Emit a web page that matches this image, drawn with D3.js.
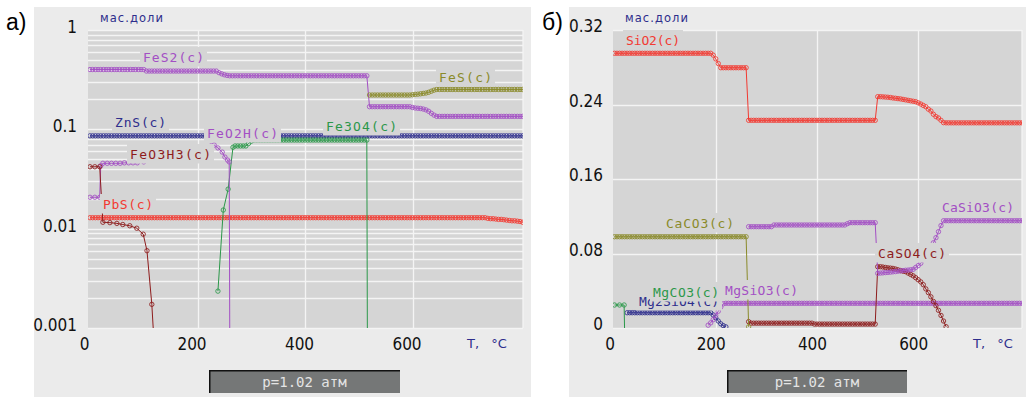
<!DOCTYPE html>
<html><head><meta charset="utf-8">
<script src="https://cdn.jsdelivr.net/npm/d3@7"></script>
<style>
html,body{margin:0;padding:0;background:#fff;}
svg{display:block;}
</style></head><body>
<svg id="chart" width="1026" height="397"></svg>
<script>
// ---------------- DATA ----------------
const T_STEP = 5; // temperature step of the computation, °C

// Panel а) — mass fractions (log axis)
const aXTicks = [0, 200, 400, 600];
const aYTicks = [1, 0.1, 0.01, 0.001];
const aYTickLabels = ["1", "0.1", "0.01", "0.001"];

// FeS2(c): T = 0..805
const fes2 = [
  .40,.40,.40,.40,.40,.40,.40,.40,.40,.40,.40,.40,.40,.40,.40,.40,.40,.40,.40,.40,.40,
  .386,.386,.386,.386,.386,.386,.386,.386,.386,.386,.386,.386,.386,.386,.386,.386,.386,.386,.386,.386,.386,.386,.386,.386,.386,.386,.386,
  .372,.362,.354,.349,
  .346,.346,.346,.346,.346,.346,.346,.346,.346,.346,.346,.346,.346,.346,.346,.346,.346,.346,.346,.346,
  .346,.346,.346,.346,.346,.346,.346,.346,.346,.346,.346,.346,.346,.346,.346,.346,.346,.346,.346,.346,
  .346,.346,.346,.346,.346,.346,.346,.346,.346,.346,.346,.346,
  .169,.169,.169,.169,.169,.169,.169,.169,.169,.169,.169,.169,.169,.169,.169,.169,
  .166,.164,.163,.162,.160,.157,.152,.145,.139,
  .135,.135,.135,.135,.135,.135,.135,.135,.135,.135,.135,.135,.135,.135,.135,.135,.135,.135,.135,.135,
  .135,.135,.135,.135,.135,.135,.135,.135,.135,.135,.135,.135,.135
];
// ZnS(c): T = 0..805
const zns = [
  .086,.086,.086,.086,.086,.086,.086,.086,.086,.086,.086,.086,.086,.086,.086,.086,.086,.086,.086,.086,
  .086,.086,.086,.086,.086,.086,.086,.086,.086,.086,.086,.086,.086,.086,.086,.086,.086,.086,.086,.086,
  .086,.086,.086,.086,.086,.086,.086,.086,.086,.086,.086,.086,.086,.086,.086,.086,.086,.086,.086,.086,
  .086,.086,.086,.086,.086,.086,.086,.086,.086,.086,.086,.086,.086,.086,.086,.086,.086,.086,.086,.086,
  .086,.086,.086,.086,.086,.086,.086,.086,.086,.086,.086,.086,.086,.086,.086,.086,.086,.086,.086,.086,
  .086,.086,.086,.086,.086,.086,.086,.086,.086,.086,.086,.086,.086,.086,.086,.086,.086,.086,.086,.086,
  .086,.086,.086,.086,.086,.086,.086,.086,.086,.086,.086,.086,.086,.086,.086,.086,.086,.086,.086,.086,
  .086,.086,.086,.086,.086,.086,.086,.086,.086,.086,.086,.086,.086,.086,.086,.086,.086,.086,.086,.086,
  .086,.086
];
// PbS(c): T = 0..805
const pbs = [
  .0129,.0129,.0129,.0129,.0129,.0129,.0129,.0129,.0129,.0129,.0129,.0129,.0129,.0129,.0129,.0129,.0129,.0129,.0129,.0129,
  .0129,.0129,.0129,.0129,.0129,.0129,.0129,.0129,.0129,.0129,.0129,.0129,.0129,.0129,.0129,.0129,.0129,.0129,.0129,.0129,
  .0129,.0129,.0129,.0129,.0129,.0129,.0129,.0129,.0129,.0129,.0129,.0129,.0129,.0129,.0129,.0129,.0129,.0129,.0129,.0129,
  .0129,.0129,.0129,.0129,.0129,.0129,.0129,.0129,.0129,.0129,.0129,.0129,.0129,.0129,.0129,.0129,.0129,.0129,.0129,.0129,
  .0129,.0129,.0129,.0129,.0129,.0129,.0129,.0129,.0129,.0129,.0129,.0129,.0129,.0129,.0129,.0129,.0129,.0129,.0129,.0129,
  .0129,.0129,.0129,.0129,.0129,.0129,.0129,.0129,.0129,.0129,.0129,.0129,.0129,.0129,.0129,.0129,.0129,.0129,.0129,.0129,
  .0129,.0129,.0129,.0129,.0129,.0129,.0129,.0129,.0129,.0129,.0129,.0129,.0129,.0129,.0129,.0129,.0129,.0129,.0129,.0129,
  .0129,.0129,.0129,.0129,.0129,.0129,.0129,.0129,
  .0127,.0126,.0126,.0125,.0124,.0124,.0123,.0122,.0121,.0120,.0120,.0119,.0118,.0116
];
// FeS(c): T = 520..805
const fesT0 = 520;
const fes = [
  .2215,.2215,.2215,.2215,.2215,.2215,.2215,.2215,.2215,.2215,.2215,.2215,.2215,.2215,.2215,.2215,
  .223,.225,.226,.228,.230,.232,.236,.242,.248,
  .252,.252,.252,.252,.252,.252,.252,.252,.252,.252,.252,.252,.252,.252,.252,.252,.252,.252,.252,.252,
  .252,.252,.252,.252,.252,.252,.252,.252,.252,.252,.252,.252,.252
];
// Fe3O4(c): irregular temperatures (0 = fell below the axis)
const fe3o4T = [238,248,257,266,
  270,275,280,285,290,295,300,305,310,315,320,325,330,335,340,345,350,355,360,365,370,375,380,385,390,395,
  400,405,410,415,420,425,430,435,440,445,450,455,460,465,470,475,480,485,490,495,500,505,510,515,516];
const fe3o4 = [.00235,.0154,.025,.066,
  .068,.068,.068,.068,.068,.072,.076,.078,.078,.078,.078,.078,.078,.078,.078,.078,.078,.078,.078,.078,.078,.078,.078,.078,.078,.078,
  .078,.078,.078,.078,.078,.078,.078,.078,.078,.078,.078,.078,.078,.078,.078,.078,.078,.078,.078,.078,.078,.078,.078,.078,0];
// FeO2H(c)
const feo2hT = [0,9,18,20,24,32,40,48,56,64,72,80,88,100,120,140,160,180,200,215,225,231,238,246,251,256,259,260];
const feo2h = [.0207,.0207,.0207,.043,.0455,.0455,.0455,.0455,.0455,.046,.046,.046,.046,.047,.049,.051,.054,.057,.061,.065,.068,
  .0695,.065,.059,.0526,.049,.047,0];
// FeO3H3(c)
const feo3h3T = [0,9,18,24,37,50,61,74,87,99,106,115,118];
const feo3h3 = [.042,.042,.042,.0116,.0115,.0113,.011,.0107,.0101,.0088,.006,.00173,0];

// Panel б) — mass fractions (linear axis)
const bXTicks = [0, 200, 400, 600];
const bYTicks = [0.32, 0.24, 0.16, 0.08, 0];
const bYTickLabels = ["0.32", "0.24", "0.16", "0.08", "0"];

// SiO2(c): T = 0..805
const sio2 = [
  .295,.295,.295,.295,.295,.295,.295,.295,.295,.295,.295,.295,.295,.295,.295,.295,.295,.295,.295,.295,
  .295,.295,.295,.295,.295,.295,.295,.295,.295,.295,.295,.295,.295,.295,.295,.295,.295,.295,.295,
  .293,.289,.284,
  .2795,.2795,.2795,.2795,.2795,.2795,.2795,.2795,.2795,.2795,.2795,
  .223,.223,.223,.223,.223,.223,.223,.223,.223,.223,.223,.223,.223,.223,.223,.223,.223,.223,.223,.223,
  .223,.223,.223,.223,.223,.223,.223,.223,.223,.223,.223,.223,.223,.223,.223,.223,.223,.223,.223,.223,
  .223,.223,.223,.223,.223,.223,.223,.223,.223,.223,
  .223,
  .2484,.2484,.2482,.248,.2478,.2475,.247,.2467,.2463,.246,.2455,.245,.2445,.244,.2435,.243,.2418,.2405,.239,.2376,
  .235,.233,.2295,.227,.2255,.223,.2205,
  .2203,.2203,.2203,.2203,.2203,.2203,.2203,.2203,.2203,.2203,.2203,.2203,.2203,.2203,.2203,.2203,.2203,.2203,.2203,.2203,
  .2203,.2203,.2203,.2203,.2203,.2203,.2203,.2203,.2203,.2203,.2203
];
// CaCO3(c): T = 0..265
const caco3 = [
  .098,.098,.098,.098,.098,.098,.098,.098,.098,.098,.098,.098,.098,.098,.098,.098,.098,.098,.098,.098,
  .098,.098,.098,.098,.098,.098,.098,.098,.098,.098,.098,.098,.098,.098,.098,.098,.098,.098,.098,.098,
  .098,.098,.098,.098,.098,.098,.098,.098,.098,.098,.098,.098,.098,
  .0013
];
// MgCO3(c)
const mgco3T = [0, 10, 19, 20];
const mgco3 = [.0247, .0247, .0247, 0];
// Mg2SiO4(c): T = 25..220
const mg2sio4T0 = 25;
const mg2sio4 = [
  .0164,.0164,.0164,.0164,.0164,.0164,.0164,.0164,.0164,.0164,.0164,.0164,.0164,.0164,.0164,.0164,.0164,
  .0164,.0164,.0164,.0164,.0164,.0164,.0164,.0164,.0164,.0164,.0164,.0164,.0164,.0164,.0164,.0164,.0164,
  .014,.011,.0075,.0045,.0025,.0012
];
// MgSiO3(c): T = 185..805
const mgsio3T0 = 185;
const mgsio3 = [
  .003,.0055,.009,.0135,.018,.0225,.026,
  .0265,.0265,.0265,.0265,.0265,.0265,.0265,.0265,.0265,.0265,.0265,.0265,.0265,.0265,.0265,.0265,.0265,.0265,.0265,.0265,
  .0265,.0265,.0265,.0265,.0265,.0265,.0265,.0265,.0265,.0265,.0265,.0265,.0265,.0265,.0265,.0265,.0265,.0265,.0265,.0265,
  .0265,.0265,.0265,.0265,.0265,.0265,.0265,.0265,.0265,.0265,.0265,.0265,.0265,.0265,.0265,.0265,.0265,.0265,.0265,.0265,
  .0265,.0265,.0265,.0265,.0265,.0265,.0265,.0265,.0265,.0265,.0265,.0265,.0265,.0265,.0265,.0265,.0265,.0265,.0265,.0265,
  .0265,.0265,.0265,.0265,.0265,.0265,.0265,.0265,.0265,.0265,.0265,.0265,.0265,.0265,.0265,.0265,.0265,.0265,.0265,.0265,
  .0265,.0265,.0265,.0265,.0265,.0265,.0265,.0265,.0265,.0265,.0265,.0265,.0265,.0265,.0265,.0265,.0265,.0265
];
// CaSiO3(c): T = 265..805
const casio3T0 = 265;
const casio3 = [
  .1088,.1088,.1088,.1088,.1088,.1088,.1088,.1088,.1088,.1088,
  .1106,.1106,.1106,.1106,.1106,.1106,.1106,.1106,.1106,.1106,.1106,.1106,.1106,.1106,.1106,
  .1106,.1106,.1106,.1106,.1106,.1106,.1106,.1106,.1106,.1106,.1106,.1106,.1106,.1106,
  .112,
  .1131,.1131,.1131,.1131,.1131,.1131,.1131,.1131,.1131,.1131,.1131,
  .0587,.059,.0592,.0595,.0597,.06,.0603,.0606,.061,.0613,.0616,.062,.0622,.0625,.063,.065,.067,.0695,.0735,.0775,
  .082,.0865,.0915,.097,.1034,.11,.1152,
  .1152,.1152,.1152,.1152,.1152,.1152,.1152,.1152,.1152,.1152,.1152,.1152,.1152,.1152,.1152,.1152,
  .1152,.1152,.1152,.1152,.1152,.1152,.1152,.1152,.1152,.1152,.1152,.1152,.1152,.1152,.1152
];
// CaSO4(c): T = 265..655
const caso4T0 = 265;
const caso4 = [
  .0068,
  .0052,.0052,.0052,.0052,.0052,.0052,.0052,.0052,.0052,.0052,.0052,.0052,.0052,.0052,.0052,.0052,.0052,.0052,.0052,.0052,
  .0052,.0052,.0052,.0052,.0052,
  .0042,.0042,.0042,.0042,.0042,.0042,.0042,.0042,.0042,.0042,.0042,.0042,.0042,.0042,.0042,.0042,.0042,.0042,.0042,.0042,
  .0042,.0042,.0042,.0042,.0042,
  .0658,.0658,.0655,.065,.0646,.0643,.064,.0633,.0625,.0617,.061,.0605,.059,.0575,.056,.054,.0518,.0495,.0465,.042,
  .038,.0335,.0285,.024,.019,.0135,.0075,.0014
];

// ---------------- HELPERS ----------------
const regular = (t0, values) => values.map((v, i) => ({ t: t0 + i * T_STEP, v }));
const irregular = (ts, values) => ts.map((t, i) => ({ t, v: values[i] }));

const COL = {
  purple: "#a34fc4", navy: "#2e2e8c", green: "#2c984a",
  olive: "#8a8a2a", brown: "#8e1c1c", red: "#f23a32"
};
const PLOT_BG = "#d5d5d5";
const OUTER_BG = "#ebebeb";

const svg = d3.select("#chart");

function drawPanel(p) {
  const g = svg.append("g");
  g.append("rect").attr("x", p.outer[0]).attr("y", p.outer[1]).attr("width", p.outer[2]).attr("height", p.outer[3]).attr("fill", OUTER_BG);
  const [px, py, pw, ph] = p.plot;
  g.append("rect").attr("x", px).attr("y", py).attr("width", pw).attr("height", ph).attr("fill", PLOT_BG);

  const x = d3.scaleLinear().domain([0, 805]).range(p.xRange);
  const y = p.log ? d3.scaleLog().domain([0.001, 1]).range([py + ph, py])
                  : d3.scaleLinear().domain([0, 0.32]).range([py + ph, py]);
  const yPos = v => (v <= 0 ? py + ph + 4 : y(v));

  const clipId = "clip-" + p.id;
  g.append("clipPath").attr("id", clipId).append("rect").attr("x", px).attr("y", py - 1).attr("width", pw).attr("height", ph + 1);

  // grid
  const grid = g.append("g").attr("stroke", "#f4f4f4").attr("stroke-width", 1.3);
  const hTicks = p.log ? y.ticks() : p.yTicks;
  grid.selectAll("line.h").data(hTicks).join("line")
    .attr("x1", px).attr("x2", px + pw).attr("y1", d => Math.round(y(d)) + 0.5).attr("y2", d => Math.round(y(d)) + 0.5);
  grid.selectAll("line.v").data(p.xTicks.filter(t => t > 0)).join("line")
    .attr("x1", d => Math.round(x(d)) + 0.5).attr("x2", d => Math.round(x(d)) + 0.5).attr("y1", py).attr("y2", py + ph);
  g.append("line").attr("x1", px + pw).attr("x2", px + pw).attr("y1", py).attr("y2", py + ph).attr("stroke", "#f4f4f4").attr("stroke-width", 1.3);

  const marks = g.append("g").attr("clip-path", `url(#${clipId})`);
  const line = d3.line().defined(d => d.v != null).x(d => x(d.t)).y(d => yPos(d.v));

  const drawSeries = s => {
    const sg = marks.append("g");
    sg.append("path").attr("d", line(s.data)).attr("fill", "none").attr("stroke", s.color).attr("stroke-width", 1);
    sg.selectAll("circle").data(s.data.filter(d => d.v != null && d.v > 0 && (!p.log || d.v >= 0.001))).join("circle")
      .attr("cx", d => x(d.t)).attr("cy", d => y(d.v)).attr("r", 2.2)
      .attr("fill", "none").attr("stroke", s.color).attr("stroke-width", 0.85);
  };
  const drawLabel = l => {
    const lg = g.append("g");
    lg.append("rect").attr("x", l.x - 3).attr("y", l.y - 10).attr("width", l.w + 6).attr("height", 19.5).attr("fill", PLOT_BG);
    lg.append("text").attr("x", l.x).attr("y", l.y + 4.5).text(l.text)
      .attr("font-family", "'DejaVu Sans Mono', monospace").attr("font-size", 13)
      .attr("textLength", l.w).attr("lengthAdjust", "spacing").attr("fill", l.color);
  };
  const seriesByKey = Object.fromEntries(p.series.map(s => [s.key, s]));
  const labelByKey = Object.fromEntries(p.labels.map(l => [l.key, l]));
  p.order.forEach(([kind, key]) => kind === "s" ? drawSeries(seriesByKey[key]) : drawLabel(labelByKey[key]));

  // tick labels
  const tickFont = "'Liberation Sans Narrow','DejaVu Sans Condensed',sans-serif";
  g.append("g").selectAll("text").data(p.xTicks).join("text")
    .attr("x", d => x(d) - p.xLabelShift).attr("y", 349.5).attr("text-anchor", "middle")
    .attr("font-family", tickFont).attr("font-size", 17).attr("fill", "#111").text(d => String(d));
  g.append("g").selectAll("text").data(p.yTicks).join("text")
    .attr("x", p.yLabelX).attr("y", d => y(d) + p.yLabelDy).attr("text-anchor", "end")
    .attr("font-family", tickFont).attr("font-size", 17).attr("fill", "#111").text((d, i) => p.yTickLabels[i]);

  // axis titles
  g.append("text").attr("x", p.yTitleX).attr("y", 22).text("мас.доли")
    .attr("font-family", "'DejaVu Sans', sans-serif").attr("font-size", 11.5).attr("fill", COL.navy)
    .attr("textLength", 63).attr("lengthAdjust", "spacing");
  g.append("text").attr("x", p.xTitleX).attr("y", 348).text("T, °C")
    .attr("font-family", "'DejaVu Sans', sans-serif").attr("font-size", 13).attr("fill", COL.navy)
    .attr("word-spacing", 8);

  // panel letter
  g.append("text").attr("x", p.letterX).attr("y", 30).text(p.letter)
    .attr("font-family", "'Liberation Sans', Arial, sans-serif").attr("font-size", 23).attr("fill", "#000");

  // pressure box
  const [bx, by, bw, bh] = p.box;
  g.append("rect").attr("x", bx).attr("y", by).attr("width", bw).attr("height", bh).attr("fill", "#757777");
  g.append("line").attr("x1", bx).attr("x2", bx + bw).attr("y1", by + 0.75).attr("y2", by + 0.75).attr("stroke", "#111").attr("stroke-width", 1.5);
  g.append("line").attr("x1", bx + 0.75).attr("x2", bx + 0.75).attr("y1", by).attr("y2", by + bh).attr("stroke", "#111").attr("stroke-width", 1.5);
  g.append("text").attr("x", bx + bw / 2).attr("y", by + bh / 2 + 5).attr("text-anchor", "middle")
    .text("p=1.02 атм").attr("font-family", "'DejaVu Sans Mono', monospace").attr("font-size", 14)
    .attr("fill", "#e4e4e4");
}

// ---------------- PANELS ----------------
drawPanel({
  id: "a", letter: "а)", letterX: 6, log: true,
  outer: [34, 7, 497, 390], plot: [88, 30, 435, 298], xRange: [90, 522.7],
  xTicks: aXTicks, yTicks: aYTicks, yTickLabels: aYTickLabels,
  xLabelShift: 5.5, yLabelX: 77, yLabelDy: 3, yTitleX: 100, xTitleX: 467,
  box: [209, 370, 191, 23],
  series: [
    { key: "pbs", color: COL.red, data: regular(0, pbs) },
    { key: "fes2", color: COL.purple, data: regular(0, fes2) },
    { key: "fes", color: COL.olive, data: regular(fesT0, fes) },
    { key: "zns", color: COL.navy, data: regular(0, zns) },
    { key: "fe3o4", color: COL.green, data: irregular(fe3o4T, fe3o4) },
    { key: "feo2h", color: COL.purple, data: irregular(feo2hT, feo2h) },
    { key: "feo3h3", color: COL.brown, data: irregular(feo3h3T, feo3h3) }
  ],
  labels: [
    { key: "fes2", text: "FeS2(c)", color: COL.purple, x: 143, y: 57, w: 61 },
    { key: "zns", text: "ZnS(c)", color: COL.navy, x: 115, y: 122, w: 51 },
    { key: "pbs", text: "PbS(c)", color: COL.red, x: 103, y: 204, w: 50 },
    { key: "fes", text: "FeS(c)", color: COL.olive, x: 439, y: 77, w: 53 },
    { key: "fe3o4", text: "Fe3O4(c)", color: COL.green, x: 326, y: 126, w: 71 },
    { key: "feo3h3", text: "FeO3H3(c)", color: COL.brown, x: 130, y: 154, w: 81 },
    { key: "feo2h", text: "FeO2H(c)", color: COL.purple, x: 207, y: 133, w: 71 }
  ],
  order: [["s","pbs"],["s","fes2"],["s","fes"],["s","zns"],["s","fe3o4"],["s","feo2h"],["s","feo3h3"],
          ["l","fes2"],["l","zns"],["l","pbs"],["l","fes"],["l","fe3o4"],["l","feo3h3"],["l","feo2h"]]
});

drawPanel({
  id: "b", letter: "б)", letterX: 542, log: false,
  outer: [569, 7, 457, 390], plot: [613, 30, 409, 298], xRange: [614.5, 1022],
  xTicks: bXTicks, yTicks: bYTicks, yTickLabels: bYTickLabels,
  xLabelShift: 4.5, yLabelX: 603, yLabelDy: 2, yTitleX: 625, xTitleX: 973,
  box: [727, 370, 180, 23],
  series: [
    { key: "sio2", color: COL.red, data: regular(0, sio2) },
    { key: "caco3", color: COL.olive, data: regular(0, caco3) },
    { key: "mgco3", color: COL.green, data: irregular(mgco3T, mgco3) },
    { key: "mg2sio4", color: COL.navy, data: regular(mg2sio4T0, mg2sio4) },
    { key: "mgsio3", color: COL.purple, data: regular(mgsio3T0, mgsio3) },
    { key: "casio3", color: COL.purple, data: regular(casio3T0, casio3) },
    { key: "caso4", color: COL.brown, data: regular(caso4T0, caso4) }
  ],
  labels: [
    { key: "sio2", text: "SiO2(c)", color: COL.red, x: 626, y: 40, w: 54 },
    { key: "mg2sio4", text: "Mg2SiO4(c)", color: COL.navy, x: 639, y: 301, w: 80 },
    { key: "mgco3", text: "MgCO3(c)", color: COL.green, x: 653, y: 292, w: 66 },
    { key: "mgsio3", text: "MgSiO3(c)", color: COL.purple, x: 725, y: 290, w: 73 },
    { key: "caco3", text: "CaCO3(c)", color: COL.olive, x: 666, y: 223, w: 68 },
    { key: "caso4", text: "CaSO4(c)", color: COL.brown, x: 878, y: 253, w: 68 },
    { key: "casio3", text: "CaSiO3(c)", color: COL.purple, x: 942, y: 207, w: 72 }
  ],
  order: [["s","sio2"],["s","mg2sio4"],["s","mgco3"],["s","mgsio3"],["s","caso4"],
          ["l","sio2"],["l","mg2sio4"],["l","mgco3"],["l","mgsio3"],["l","caco3"],["l","caso4"],
          ["s","caco3"],["s","casio3"],["l","casio3"]]
});
</script>
</body></html>
